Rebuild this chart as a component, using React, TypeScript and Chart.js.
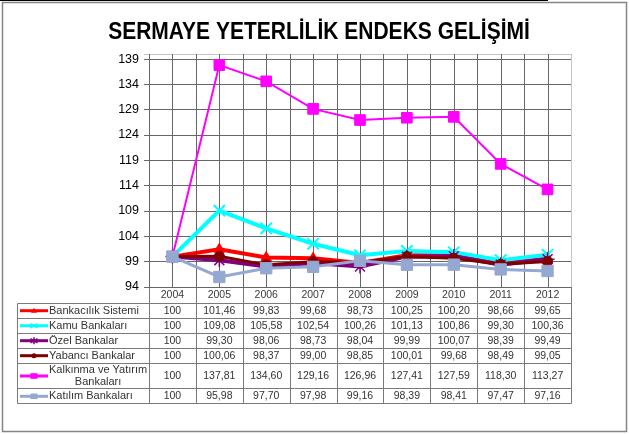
import React, { useEffect, useRef } from 'react';
import { Chart, registerables } from 'chart.js';

Chart.register(...registerables);

const chartTitle = 'SERMAYE YETERLİLİK ENDEKS GELİŞİMİ';
const years = ['2004', '2005', '2006', '2007', '2008', '2009', '2010', '2011', '2012'];
const yTicks = [94, 99, 104, 109, 114, 119, 124, 129, 134, 139];
const yMin = 94;
const yMax = 140;

const seriesNames = [
  'Bankacılık Sistemi',
  'Kamu Bankaları',
  'Özel Bankalar',
  'Yabancı Bankalar',
  'Kalkınma ve Yatırım Bankaları',
  'Katılım Bankaları',
];
const legendLines = [
  ['Bankacılık Sistemi'],
  ['Kamu Bankaları'],
  ['Özel Bankalar'],
  ['Yabancı Bankalar'],
  ['Kalkınma ve Yatırım', 'Bankaları'],
  ['Katılım Bankaları'],
];

const bankacilik = [100, 101.46, 99.83, 99.68, 98.73, 100.25, 100.2, 98.66, 99.65];
const kamu = [100, 109.08, 105.58, 102.54, 100.26, 101.13, 100.86, 99.3, 100.36];
const ozel = [100, 99.3, 98.06, 98.73, 98.04, 99.99, 100.07, 98.39, 99.49];
const yabanci = [100, 100.06, 98.37, 99.0, 98.85, 100.01, 99.68, 98.49, 99.05];
const kalkinma = [100, 137.81, 134.6, 129.16, 126.96, 127.41, 127.59, 118.3, 113.27];
const katilim = [100, 95.98, 97.7, 97.98, 99.16, 98.39, 98.41, 97.47, 97.16];

const seriesData = [bankacilik, kamu, ozel, yabanci, kalkinma, katilim];

// styles
const colors = ['#FF0000', '#00FFFF', '#800080', '#800000', '#FF00FF', '#94A8D2'];
const lineWidths = [4, 4, 4, 3, 2, 3];
const pointStyles = ['triangle', 'crossRot', 'star', 'circle', 'rect', 'rect'];
const pointRadii = [6, 8, 7, 5, 7.5, 8];
const pointBorders = [1, 2, 1.5, 1, 1, 1];
const keyRadii = [3, 3.5, 3.5, 2.5, 3.5, 3.5];

const FONT = '"Liberation Sans", Arial, sans-serif';
const GRID = '#666666';
const LIGHT = '#c4c4c4';
const TABLE = '#7a7a7a';

const fmt = (v: number) => (v === 100 ? '100' : v.toFixed(2).replace('.', ','));

const framePlugin = {
  id: 'frame',
  beforeDraw(chart: any) {
    const ctx = chart.ctx;
    ctx.save();
    ctx.fillStyle = '#ffffff';
    ctx.fillRect(0, 0, chart.width, chart.height);
    ctx.strokeStyle = '#000000';
    ctx.lineWidth = 1;
    ctx.beginPath();
    ctx.moveTo(0, 0.5);
    ctx.lineTo(548, 0.5);
    ctx.stroke();
    ctx.strokeStyle = '#858585';
    ctx.lineWidth = 1.5;
    ctx.strokeRect(2.5, 2.5, chart.width - 5, chart.height - 5);
    // title
    ctx.fillStyle = '#000000';
    ctx.font = 'bold 21px ' + FONT;
    ctx.textAlign = 'center';
    ctx.textBaseline = 'alphabetic';
    ctx.translate(319, 39);
    ctx.scale(1, 1.18);
    ctx.fillText(chartTitle, 0, 0);
    ctx.restore();
  },
};

function drawKeyMarker(ctx: CanvasRenderingContext2D, style: string, x: number, y: number, r: number, color: string) {
  ctx.save();
  ctx.fillStyle = color;
  ctx.strokeStyle = color;
  ctx.lineWidth = 1.5;
  ctx.beginPath();
  if (style === 'rect') {
    ctx.rect(x - r, y - r * 0.8, 2 * r, 1.6 * r);
    ctx.fill();
  } else if (style === 'circle') {
    ctx.arc(x, y, r, 0, Math.PI * 2);
    ctx.fill();
  } else if (style === 'triangle') {
    ctx.moveTo(x, y - r);
    ctx.lineTo(x + r, y + r * 0.7);
    ctx.lineTo(x - r, y + r * 0.7);
    ctx.closePath();
    ctx.fill();
  } else if (style === 'crossRot') {
    ctx.moveTo(x - r, y - r * 0.6);
    ctx.lineTo(x + r, y + r * 0.6);
    ctx.moveTo(x - r, y + r * 0.6);
    ctx.lineTo(x + r, y - r * 0.6);
    ctx.stroke();
  } else {
    ctx.moveTo(x - r, y - r * 0.6);
    ctx.lineTo(x + r, y + r * 0.6);
    ctx.moveTo(x - r, y + r * 0.6);
    ctx.lineTo(x + r, y - r * 0.6);
    ctx.moveTo(x, y - r);
    ctx.lineTo(x, y + r);
    ctx.stroke();
  }
  ctx.restore();
}

const tablePlugin = {
  id: 'dataTable',
  beforeDatasetsDraw(chart: any) {
    const ctx = chart.ctx;
    const area = chart.chartArea;
    const xs = chart.scales.x;
    const n = years.length;
    const band = (area.right - area.left) / n;
    const px = (v: number) => Math.round(v) + 0.5;
    ctx.save();
    ctx.lineWidth = 1;
    // vertical grid lines at category centers and boundaries
    ctx.strokeStyle = GRID;
    ctx.beginPath();
    for (let i = 0; i < n; i++) {
      const x = px(xs.getPixelForValue(i));
      ctx.moveTo(x, area.top);
      ctx.lineTo(x, area.bottom);
    }
    for (let i = 1; i < n; i++) {
      const x = px(area.left + i * band);
      ctx.moveTo(x, area.top);
      ctx.lineTo(x, area.bottom);
    }
    ctx.stroke();
    ctx.strokeStyle = LIGHT;
    ctx.beginPath();
    ctx.moveTo(px(area.right), area.top);
    ctx.lineTo(px(area.right), area.bottom);
    ctx.stroke();

    // table
    const headerH = 15.7;
    const rowH = [15, 15, 15, 15, 25.6, 15];
    const tableLeft = 17;
    const top0 = area.bottom;
    const rowsTop = top0 + headerH;
    let bottom = rowsTop;
    rowH.forEach((h) => (bottom += h));

    ctx.strokeStyle = TABLE;
    ctx.beginPath();
    for (let i = 0; i <= n; i++) {
      const x = px(area.left + i * band);
      ctx.moveTo(x, top0);
      ctx.lineTo(x, px(bottom));
    }
    ctx.moveTo(px(tableLeft), px(rowsTop));
    ctx.lineTo(px(tableLeft), px(bottom));
    let y = rowsTop;
    ctx.moveTo(px(tableLeft), px(y));
    ctx.lineTo(px(area.right), px(y));
    rowH.forEach((h) => {
      y += h;
      ctx.moveTo(px(tableLeft), px(y));
      ctx.lineTo(px(area.right), px(y));
    });
    ctx.stroke();

    ctx.strokeStyle = GRID;
    ctx.beginPath();
    ctx.moveTo(area.left, px(area.bottom));
    ctx.lineTo(area.right, px(area.bottom));
    ctx.stroke();

    // header years
    ctx.fillStyle = '#3a3a3a';
    ctx.font = '10.5px ' + FONT;
    ctx.textAlign = 'center';
    ctx.textBaseline = 'middle';
    for (let i = 0; i < n; i++) {
      ctx.fillText(years[i], xs.getPixelForValue(i), top0 + headerH / 2 + 0.5);
    }

    // rows
    y = rowsTop;
    seriesData.forEach((data, r) => {
      const h = rowH[r];
      const cy = y + h / 2 + 0.5;
      ctx.fillStyle = '#333333';
      ctx.font = '10.5px ' + FONT;
      ctx.textAlign = 'center';
      ctx.textBaseline = 'middle';
      data.forEach((v, i) => {
        ctx.fillText(fmt(v), xs.getPixelForValue(i), cy);
      });
      ctx.strokeStyle = colors[r];
      ctx.lineWidth = 3;
      ctx.beginPath();
      ctx.moveTo(20, cy);
      ctx.lineTo(48, cy);
      ctx.stroke();
      ctx.lineWidth = 1;
      drawKeyMarker(ctx, pointStyles[r], 34, cy, keyRadii[r], colors[r]);
      ctx.fillStyle = '#333333';
      ctx.font = '11px ' + FONT;
      ctx.textBaseline = 'middle';
      const lines = legendLines[r];
      if (lines.length === 1) {
        ctx.textAlign = 'left';
        ctx.fillText(lines[0], 49, cy);
      } else {
        const w1 = ctx.measureText(lines[0]).width;
        ctx.textAlign = 'left';
        ctx.fillText(lines[0], 49, cy - 6);
        ctx.textAlign = 'center';
        ctx.fillText(lines[1], 49 + w1 / 2, cy + 6);
      }
      y += h;
    });
    ctx.restore();
  },
};

export default function App() {
  const canvasRef = useRef<HTMLCanvasElement | null>(null);

  useEffect(() => {
    if (!canvasRef.current) return;
    const n = seriesNames.length;
    const chart = new Chart(canvasRef.current, {
      type: 'line',
      data: {
        labels: years,
        datasets: seriesNames.map((name, i) => ({
          label: name,
          data: seriesData[i],
          borderColor: colors[i],
          backgroundColor: colors[i],
          borderWidth: lineWidths[i],
          pointStyle: pointStyles[i] as any,
          pointRadius: pointRadii[i],
          pointBorderWidth: pointBorders[i],
          pointBorderColor: colors[i],
          pointBackgroundColor: colors[i],
          tension: 0,
          fill: false,
          order: n - 1 - i,
        })),
      },
      options: {
        animation: false,
        responsive: false,
        devicePixelRatio: 1,
        layout: { padding: { left: 0, top: 54, right: 58, bottom: 147 } },
        plugins: {
          legend: { display: false },
          title: { display: false },
          tooltip: { enabled: false },
        },
        scales: {
          x: {
            type: 'category',
            offset: true,
            display: false,
          },
          y: {
            min: yMin,
            max: yMax,
            afterBuildTicks: (s: any) => {
              s.ticks = [...yTicks, yMax].map((v) => ({ value: v }));
            },
            afterFit: (s: any) => {
              s.width = 149;
            },
            grid: {
              color: (c: any) => (c.tick && c.tick.value === yMax ? LIGHT : GRID),
              lineWidth: 1,
              tickLength: 5,
              drawTicks: true,
            },
            border: { display: true, color: GRID, width: 1 },
            ticks: {
              callback: (v: any) => (v === yMax ? '' : String(v)),
              color: '#000000',
              font: { family: FONT, size: 12.5 },
              padding: 5,
            },
          },
        },
      },
      plugins: [framePlugin, tablePlugin],
    });
    return () => chart.destroy();
  }, []);

  return (
    <div style={{ position: 'fixed', left: 0, top: 0, width: 629, height: 434, background: '#fff' }}>
      <canvas ref={canvasRef} width={629} height={434} style={{ display: 'block', width: 629, height: 434 }} />
    </div>
  );
}
